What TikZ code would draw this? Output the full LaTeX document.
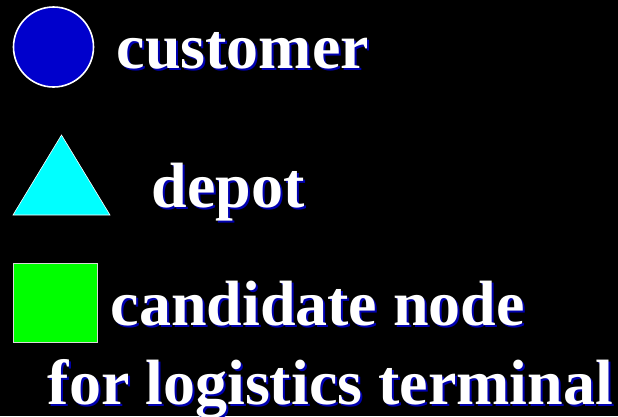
\documentclass[tikz,border=0pt]{standalone}
\usepackage{fontspec}
\setmainfont{Liberation Serif}
\begin{document}
\begin{tikzpicture}[x=1pt,y=-1pt,
  lbl/.style={anchor=base west,inner sep=0pt,text=white,font=\fontsize{64}{64}\selectfont\bfseries},
  shd/.style={anchor=base west,inner sep=0pt,text=shadowblue,font=\fontsize{64}{64}\selectfont\bfseries}]
\definecolor{shadowblue}{HTML}{0000B0}
\definecolor{custblue}{HTML}{0000CC}
\definecolor{depcyan}{HTML}{00FFFF}
\definecolor{candgreen}{HTML}{00FF00}
\fill[black] (0,0) rectangle (618,416);
\useasboundingbox (0,0) rectangle (618,416);
% symbols
\node[circle,draw=white,line width=1.6pt,fill=custblue,minimum size=80pt,inner sep=0pt] (cust) at (53.5,47) {};
\coordinate (tA) at (61.5,135);
\coordinate (tB) at (13,215);
\coordinate (tC) at (110,215);
\filldraw[fill=depcyan,draw=white,line width=0.6pt] (tA) -- (tB) -- (tC) -- cycle;
\node[rectangle,draw=white!85!black,line width=1pt,fill=candgreen,minimum width=84pt,minimum height=79pt,inner sep=0pt] (cand) at (55.5,303) {};
% labels with shadow
\node[shd] (custS) at (118.5,70) {customer};
\node[lbl] (custT) at (116.5,68) {customer};
\node[shd] (depS) at (153.5,209) {depot};
\node[lbl] (depT) at (151.5,207) {depot};
\node[shd] (candS) at (112.5,327) {candidate node};
\node[lbl] (candT) at (110.5,325) {candidate node};
\node[shd] (logS) at (49.5,406) {for logistics terminal};
\node[lbl] (logT) at (47.5,404) {for logistics terminal};
\end{tikzpicture}
\end{document}
